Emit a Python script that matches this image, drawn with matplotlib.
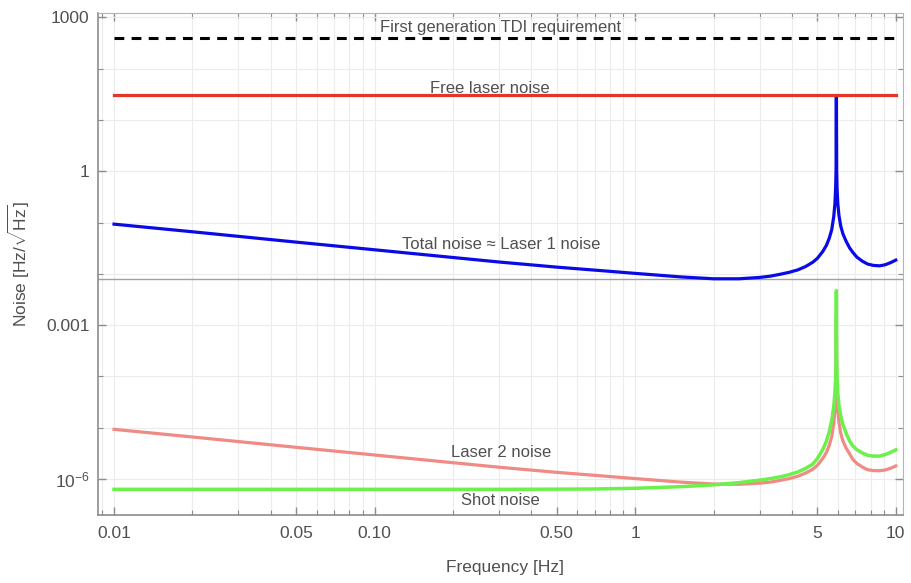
import numpy as np
import matplotlib.pyplot as plt
from matplotlib.ticker import FixedLocator, FixedFormatter, NullFormatter

plt.rcParams['font.family'] = ['Liberation Sans', 'DejaVu Sans']
plt.rcParams['mathtext.fontset'] = 'custom'
plt.rcParams['mathtext.rm'] = 'Liberation Sans'
plt.rcParams['mathtext.it'] = 'Liberation Sans:italic'

# ---- data ----
freq = [0.01, 0.02, 0.05, 0.1, 0.2, 0.3, 0.5, 0.7, 1.0, 1.5, 2.0, 2.5, 3.0,
        3.3, 3.6, 3.9, 4.2, 4.5, 4.8, 5.0, 5.24, 5.42, 5.56, 5.68, 5.78, 5.84,
        5.88, 5.90, 5.915, 5.93, 5.95, 5.99, 6.05, 6.15, 6.27, 6.45, 6.65,
        6.85, 7.1, 7.46, 7.8, 8.2, 8.67, 9.1, 9.55, 10.0]

laser1 = [0.093, 0.066, 0.0415, 0.0294, 0.0208, 0.0170, 0.0135, 0.0118, 0.0102,
          0.0087, 0.0080, 0.0080, 0.0085, 0.0090, 0.0098, 0.0107, 0.0119,
          0.0138, 0.0168, 0.020, 0.027, 0.036, 0.050, 0.073, 0.13, 0.23,
          0.49, 1.1, 30.0, 1.1, 0.49, 0.24, 0.14, 0.085, 0.060, 0.043, 0.032,
          0.026, 0.021, 0.0175, 0.0155, 0.0146, 0.0143, 0.0150, 0.0165, 0.0185]

laser2 = [9.3e-6, 6.6e-6, 4.15e-6, 2.94e-6, 2.08e-6, 1.70e-6, 1.35e-6, 1.18e-6,
          1.02e-6, 8.7e-7, 8.0e-7, 7.9e-7, 8.3e-7, 8.7e-7, 9.4e-7, 1.02e-6,
          1.13e-6, 1.3e-6, 1.55e-6, 1.85e-6, 2.5e-6, 3.3e-6, 4.6e-6, 6.7e-6,
          1.2e-5, 2.1e-5, 4.5e-5, 1.0e-4, 1.5e-3, 1.0e-4, 4.5e-5, 2.2e-5,
          1.3e-5, 7.8e-6, 5.5e-6, 4.0e-6, 3.1e-6, 2.4e-6, 2.0e-6, 1.7e-6,
          1.52e-6, 1.46e-6, 1.45e-6, 1.5e-6, 1.62e-6, 1.8e-6]

shot = [6.3e-7, 6.3e-7, 6.3e-7, 6.3e-7, 6.3e-7, 6.3e-7, 6.35e-7, 6.4e-7, 6.6e-7,
        7.1e-7, 7.7e-7, 8.5e-7, 9.5e-7, 1.02e-6, 1.1e-6, 1.22e-6, 1.37e-6,
        1.6e-6, 1.95e-6, 2.5e-6, 3.7e-6, 5.5e-6, 8.5e-6, 1.4e-5, 2.6e-5,
        4.8e-5, 1.0e-4, 2.3e-4, 4.7e-3, 2.3e-4, 1.0e-4, 4.8e-5, 2.8e-5,
        1.7e-5, 1.15e-5, 7.8e-6, 5.5e-6, 4.4e-6, 3.7e-6, 3.2e-6, 2.9e-6,
        2.8e-6, 2.8e-6, 3.0e-6, 3.3e-6, 3.7e-6]

free_laser = [30.0, 30.0]
tdi_req = [400.0, 400.0]
f_ends = [0.01, 10.0]
axis_level = 0.0078

x_ticks = [0.01, 0.05, 0.1, 0.5, 1, 5, 10]
x_labels = ['0.01', '0.05', '0.10', '0.50', '1', '5', '10']
x_minor = [0.009, 0.02, 0.03, 0.04, 0.06, 0.07, 0.08, 0.09, 0.2, 0.3, 0.4,
           0.6, 0.7, 0.8, 0.9, 2, 3, 4, 6, 7, 8, 9]
y_ticks = [1e3, 1, 1e-3, 1e-6]
y_labels = ['1000', '1', '0.001', r'$10^{-6}$']
y_minor = [1e2, 1e1, 1e-1, 1e-2, 1e-4, 1e-5, 1e-7]

# ---- figure ----
fig = plt.figure(figsize=(9.11, 5.83), dpi=100)
ax = fig.add_axes([98 / 911, 1 - 515 / 583, (903 - 98) / 911, (515 - 13) / 583])
ax.set_xscale('log')
ax.set_yscale('log')
ax.set_xlim(0.00868, 10.66)
ax.set_ylim(1.99e-7, 1213)

ax.axhline(axis_level, color='#a0a0a0', lw=1.0, zorder=1.5)

ax.plot(f_ends, tdi_req, color='black', lw=2.2, linestyle=(0, (3.2, 2.4)))
ax.plot(freq, laser1, color='#0a0ae6', lw=2.3)
ax.plot(f_ends, free_laser, color='#e4352a', lw=2.3)
ax.plot(freq, laser2, color='#f08a85', lw=2.3)
ax.plot(freq, shot, color='#6cf04a', lw=2.5)

txt = dict(ha='center', va='center', fontsize=12, color='#505050')
ax.text(0.305, 640, 'First generation TDI requirement', **txt)
ax.text(0.277, 41, 'Free laser noise', **txt)
ax.text(0.305, 0.038, 'Total noise ≈ Laser 1 noise', **txt)
ax.text(0.305, 3.3e-6, 'Laser 2 noise', **txt)
ax.text(0.305, 3.9e-7, 'Shot noise', **txt)

ax.xaxis.set_major_locator(FixedLocator(x_ticks))
ax.xaxis.set_major_formatter(FixedFormatter(x_labels))
ax.xaxis.set_minor_locator(FixedLocator(x_minor))
ax.xaxis.set_minor_formatter(NullFormatter())
ax.yaxis.set_major_locator(FixedLocator(y_ticks))
ax.yaxis.set_major_formatter(FixedFormatter(y_labels))
ax.yaxis.set_minor_locator(FixedLocator(y_minor))
ax.yaxis.set_minor_formatter(NullFormatter())

ax.tick_params(which='both', direction='in', top=True, right=True,
               color='#8c8c8c', labelcolor='#505050', labelsize=12.5)
ax.tick_params(which='major', length=6, width=1)
ax.tick_params(which='minor', length=3.5, width=0.8)
ax.tick_params(axis='x', pad=8)
ax.tick_params(axis='y', pad=6)

ax.grid(which='both', color='#ececec', lw=0.8)
ax.set_axisbelow(True)
for s in ['left', 'bottom']:
    ax.spines[s].set_color('#8c8c8c')
    ax.spines[s].set_linewidth(1.2)
for s in ['top', 'right']:
    ax.spines[s].set_color('#b5b5b5')
    ax.spines[s].set_linewidth(0.8)

ax.set_xlabel('Frequency [Hz]', fontsize=12.5, color='#505050')
ax.xaxis.set_label_coords(0.505, -0.09)
ax.set_ylabel(r'Noise [Hz/$\sqrt{\mathrm{Hz}}$]', fontsize=12.5, color='#505050')
ax.yaxis.set_label_coords(-0.082, 0.5)

fig.savefig('out.png', dpi=100)
